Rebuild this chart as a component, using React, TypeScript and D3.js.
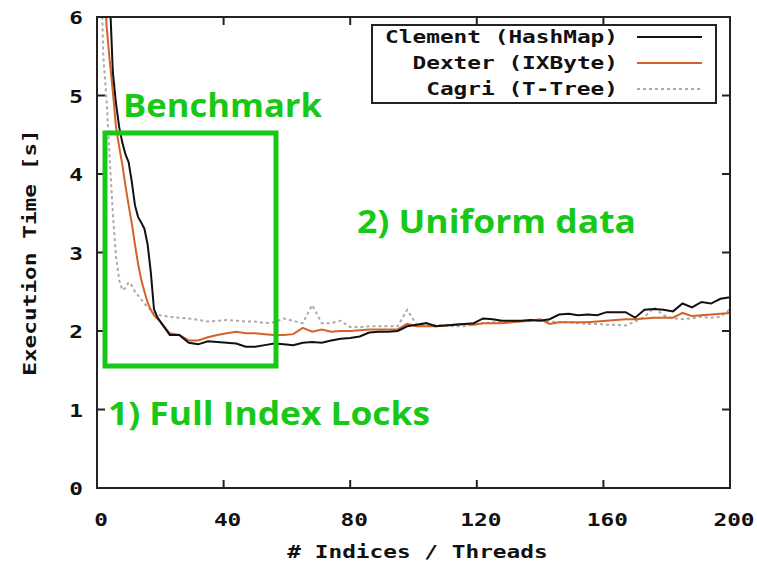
import React, { useEffect, useRef } from 'react';
import * as d3 from 'd3';

// x positions shared by all three series
const xs = [
  1, 2, 3, 4, 5, 6, 7, 8, 9, 10, 11, 12, 13, 14, 15, 16, 17, 18, 19, 20,
  23, 26, 29, 32, 35, 38, 41, 44, 47, 50, 53, 56, 59, 62, 65, 68, 71, 74, 77, 80,
  83, 86, 89, 92, 95, 98, 101, 104, 107, 110, 113, 116, 119, 122, 125, 128, 131, 134, 137, 140,
  143, 146, 149, 152, 155, 158, 161, 164, 167, 170, 173, 176, 179, 182, 185, 188, 191, 194, 197, 200,
];

const clement = [
  12, 9, 7.5, 6.3, 5.3, 4.9, 4.6, 4.4, 4.25, 4.15, 3.9, 3.6, 3.45, 3.38, 3.3, 3.1, 2.75, 2.28, 2.18, 2.12,
  1.95, 1.95, 1.85, 1.83, 1.87, 1.86, 1.85, 1.84, 1.8, 1.8, 1.82, 1.84, 1.83, 1.82, 1.85, 1.86, 1.85, 1.88, 1.9, 1.91,
  1.93, 1.98, 1.99, 1.99, 2.0, 2.06, 2.08, 2.1, 2.06, 2.07, 2.08, 2.09, 2.1, 2.16, 2.15, 2.13, 2.13, 2.13, 2.14, 2.13,
  2.15, 2.21, 2.22, 2.2, 2.21, 2.2, 2.24, 2.24, 2.24, 2.17, 2.27, 2.28, 2.27, 2.25, 2.35, 2.3, 2.37, 2.35, 2.41, 2.43,
];

const dexter = [
  9, 7, 5.9, 5.45, 5.05, 4.6, 4.35, 4.12, 3.85, 3.6, 3.37, 3.1, 2.85, 2.65, 2.5, 2.36, 2.27, 2.2, 2.16, 2.12,
  1.97, 1.95, 1.88, 1.88, 1.92, 1.95, 1.97, 1.99, 1.97, 1.97, 1.96, 1.95, 1.95, 1.96, 2.04, 1.99, 2.02, 1.99, 2.0, 2.0,
  2.01, 2.02, 2.02, 2.02, 2.02, 2.09, 2.06, 2.06, 2.06, 2.07, 2.08, 2.09, 2.08, 2.1, 2.1, 2.1, 2.11, 2.12, 2.13, 2.15,
  2.09, 2.11, 2.11, 2.11, 2.11, 2.12, 2.13, 2.14, 2.15, 2.15, 2.16, 2.17, 2.17, 2.17, 2.23, 2.19, 2.2, 2.21, 2.22, 2.23,
];

const cagri = [
  7, 5.5, 4.95, 4.2, 3.5, 2.95, 2.65, 2.52, 2.55, 2.62, 2.58, 2.5, 2.45, 2.4, 2.35, 2.3, 2.27, 2.24, 2.22, 2.2,
  2.18, 2.17, 2.16, 2.14, 2.12, 2.13, 2.14, 2.13, 2.12, 2.12, 2.1, 2.11, 2.16, 2.13, 2.1, 2.33, 2.1, 2.1, 2.13, 2.05,
  2.05, 2.06, 2.06, 2.06, 2.06, 2.27, 2.08, 2.08, 2.08, 2.07, 2.06, 2.06, 2.08, 2.1, 2.11, 2.12, 2.12, 2.13, 2.13, 2.14,
  2.12, 2.11, 2.11, 2.1, 2.09, 2.09, 2.08, 2.08, 2.07, 2.12, 2.18, 2.3, 2.2, 2.16, 2.15, 2.16, 2.18, 2.17, 2.18, 2.28,
];

const seriesNames = ['Clement (HashMap)', 'Dexter (IXByte)', 'Cagri (T-Tree)'];
const xTicks = [0, 40, 80, 120, 160, 200];
const yTicks = [0, 1, 2, 3, 4, 5, 6];

const MONO = '"DejaVu Sans Mono", monospace';
const CHAR_W = 13.7;
const GREEN = '#17c817';

const App = () => {
  const ref = useRef<SVGSVGElement>(null);

  useEffect(() => {
    const svg = d3.select(ref.current);
    svg.selectAll('*').remove();

    const left = 97, right = 730, top = 17, bottom = 488;
    const x = d3.scaleLinear().domain([0, 200]).range([left, right]);
    const y = d3.scaleLinear().domain([0, 6]).range([bottom, top]);

    svg.append('rect').attr('width', 757).attr('height', 562).attr('fill', '#fff');

    svg.append('defs').append('clipPath').attr('id', 'plot-clip')
      .append('rect')
      .attr('x', left).attr('y', top)
      .attr('width', right - left).attr('height', bottom - top);

    const monoText = (g: any, str: string, px: number, py: number, anchor: string) =>
      g.append('text')
        .attr('x', px).attr('y', py)
        .attr('text-anchor', anchor)
        .attr('font-family', MONO)
        .attr('font-weight', 'bold')
        .attr('font-size', 17)
        .attr('textLength', str.length * CHAR_W)
        .attr('lengthAdjust', 'spacingAndGlyphs')
        .attr('fill', '#111')
        .text(str);

    // series lines
    const series = [
      { values: clement, color: '#111', dash: null },
      { values: dexter, color: '#d2642a', dash: null },
      { values: cagri, color: '#aaa', dash: '3,3' },
    ];
    const line = d3.line<number>()
      .x((d, i) => x(xs[i]))
      .y(d => y(d));
    const plot = svg.append('g').attr('clip-path', 'url(#plot-clip)');
    series.slice().reverse().forEach(s => {
      plot.append('path')
        .attr('d', line(s.values))
        .attr('fill', 'none')
        .attr('stroke', s.color)
        .attr('stroke-width', 2)
        .attr('stroke-dasharray', s.dash);
    });

    // frame and mirrored ticks
    svg.append('rect')
      .attr('x', left).attr('y', top)
      .attr('width', right - left).attr('height', bottom - top)
      .attr('fill', 'none').attr('stroke', '#222').attr('stroke-width', 2);

    const tickLen = 8;
    xTicks.slice(1, -1).forEach(t => {
      svg.append('line').attr('x1', x(t)).attr('x2', x(t)).attr('y1', bottom).attr('y2', bottom - tickLen)
        .attr('stroke', '#222').attr('stroke-width', 2);
      svg.append('line').attr('x1', x(t)).attr('x2', x(t)).attr('y1', top).attr('y2', top + tickLen)
        .attr('stroke', '#222').attr('stroke-width', 2);
    });
    yTicks.slice(1, -1).forEach(t => {
      svg.append('line').attr('x1', left).attr('x2', left + tickLen).attr('y1', y(t)).attr('y2', y(t))
        .attr('stroke', '#222').attr('stroke-width', 2);
      svg.append('line').attr('x1', right).attr('x2', right - tickLen).attr('y1', y(t)).attr('y2', y(t))
        .attr('stroke', '#222').attr('stroke-width', 2);
    });

    // tick labels
    xTicks.forEach(t => monoText(svg, String(t), x(t) + 4, 526, 'middle'));
    yTicks.forEach(t => monoText(svg, String(t), 83, y(t) + 7, 'end'));

    // axis titles
    monoText(svg, '# Indices / Threads', (left + right) / 2 + 4, 558, 'middle');
    const yt = svg.append('g').attr('transform', `translate(36, ${(top + bottom) / 2}) rotate(-90)`);
    monoText(yt, 'Execution Time [s]', 0, 0, 'middle');

    // legend
    const lg = svg.append('g');
    lg.append('rect')
      .attr('x', 372).attr('y', 25).attr('width', 344).attr('height', 78)
      .attr('fill', '#fff').attr('stroke', '#222').attr('stroke-width', 2);
    series.forEach((s, i) => {
      const cy = 37 + i * 26;
      monoText(lg, seriesNames[i], 618, cy + 6, 'end');
      lg.append('line')
        .attr('x1', 637).attr('x2', 702).attr('y1', cy).attr('y2', cy)
        .attr('stroke', s.color).attr('stroke-width', 2)
        .attr('stroke-dasharray', s.dash);
    });

    // green annotations
    svg.append('rect')
      .attr('x', 105).attr('y', 133).attr('width', 171).attr('height', 233)
      .attr('fill', 'none').attr('stroke', GREEN).attr('stroke-width', 5);

    const note = (str: string, px: number, py: number, w: number) =>
      svg.append('text')
        .attr('x', px).attr('y', py)
        .attr('font-family', '"Open Sans", sans-serif')
        .attr('font-weight', 'bold')
        .attr('font-size', 32)
        .attr('textLength', w)
        .attr('lengthAdjust', 'spacingAndGlyphs')
        .attr('fill', GREEN)
        .text(str);
    note('Benchmark', 123, 117, 199);
    note('2) Uniform data', 357, 233, 279);
    note('1) Full Index Locks', 108, 425, 322);
  }, []);

  return (
    <svg ref={ref} width={757} height={562}
      style={{ position: 'absolute', left: 0, top: 0, display: 'block' }} />
  );
};

export default App;
